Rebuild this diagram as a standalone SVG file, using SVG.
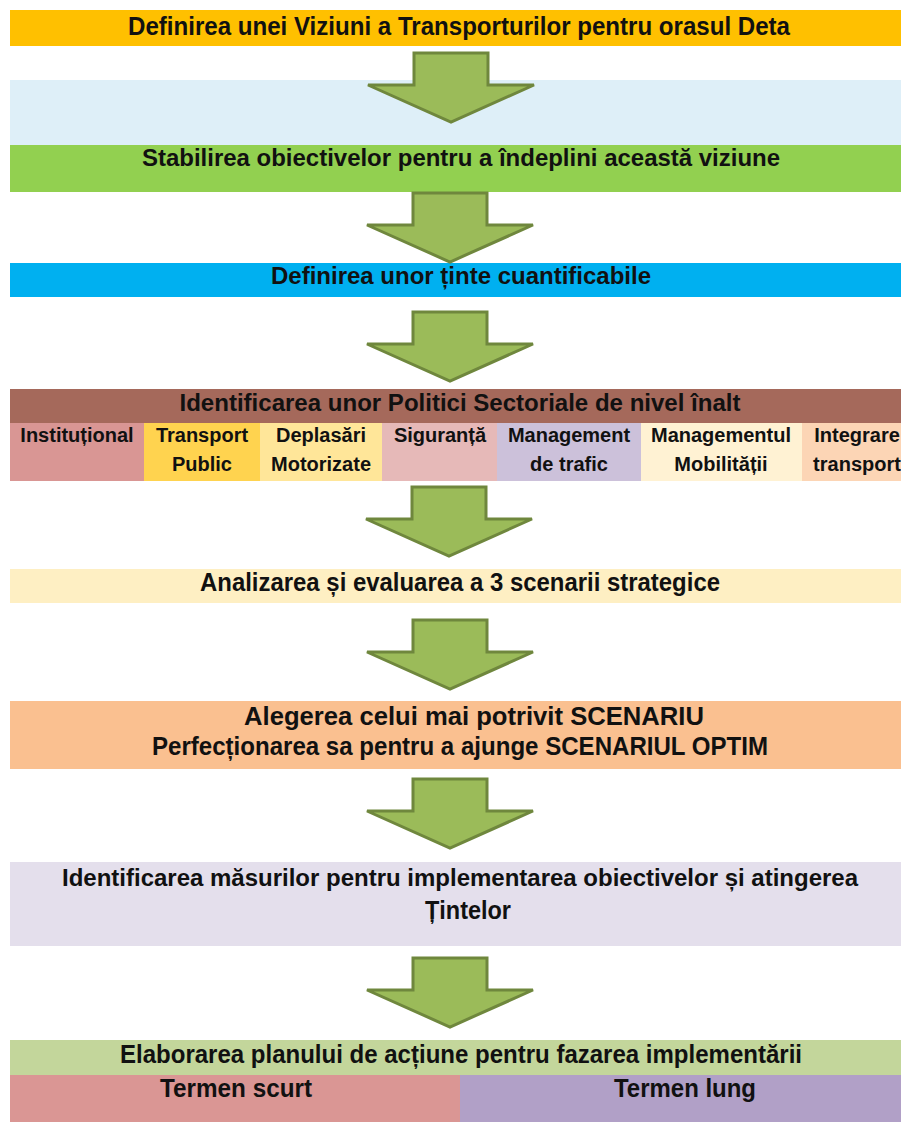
<svg xmlns="http://www.w3.org/2000/svg" width="901" height="1122" viewBox="0 0 901 1122">
  <defs>
    <style>
      text { font-family: "Liberation Sans", Arial, sans-serif; font-weight: bold; fill: #111; text-anchor: middle; }
      .main { font-size: 24px; }
      .narrow { font-size: 26px; }
      .cell { font-size: 20px; }
      .arrow { fill: #9BBB59; stroke: #6F873D; stroke-width: 3; stroke-linejoin: miter; }
    </style>
    <!-- block arrow pointing down, origin at top centre of the shaft -->
    <path id="downArrow" d="M -37 0 H 37 V 32 H 83 L 0 69 L -83 32 H -37 Z"/>
  </defs>

  <rect width="901" height="1122" fill="#FFFFFF"/>

  <!-- Step 1: vision -->
  <g id="vision">
    <rect x="10" y="10" width="891" height="36" fill="#FFC000"/>
    <text class="narrow" x="459" y="35" textLength="662" lengthAdjust="spacingAndGlyphs">Definirea unei Viziuni a Transporturilor pentru orasul Deta</text>
  </g>

  <g id="vision-band">
    <rect x="10" y="80" width="891" height="65" fill="#DEEFF8"/>
  </g>

  <!-- Step 2: objectives -->
  <g id="objectives">
    <rect x="10" y="145" width="891" height="47" fill="#92D050"/>
    <text class="main" x="461" y="166" textLength="638" lengthAdjust="spacingAndGlyphs">Stabilirea obiectivelor pentru a îndeplini această viziune</text>
  </g>

  <!-- Step 3: targets -->
  <g id="targets">
    <rect x="10" y="263" width="891" height="34" fill="#00B0F0"/>
    <text class="main" x="461" y="284">Definirea unor ținte cuantificabile</text>
  </g>

  <!-- Step 4: sector policies -->
  <g id="policies">
    <rect x="10" y="389" width="891" height="34" fill="#A5695B"/>
    <text class="main" x="460" y="411" textLength="561" lengthAdjust="spacingAndGlyphs">Identificarea unor Politici Sectoriale de nivel înalt</text>
  </g>
  <g id="policy-institutional">
    <rect x="10" y="423" width="134" height="58" fill="#D99694"/>
    <text class="cell" x="77" y="442">Instituțional</text>
  </g>
  <g id="policy-public-transport">
    <rect x="144" y="423" width="116" height="58" fill="#FFD34F"/>
    <text class="cell" x="202" y="442">Transport</text>
    <text class="cell" x="202" y="471">Public</text>
  </g>
  <g id="policy-motorised">
    <rect x="260" y="423" width="122" height="58" fill="#FFE699"/>
    <text class="cell" x="321" y="442">Deplasări</text>
    <text class="cell" x="321" y="471">Motorizate</text>
  </g>
  <g id="policy-safety">
    <rect x="382" y="423" width="115" height="58" fill="#E6B9B8"/>
    <text class="cell" x="440" y="442">Siguranță</text>
  </g>
  <g id="policy-traffic">
    <rect x="497" y="423" width="144" height="58" fill="#CCC1DA"/>
    <text class="cell" x="569" y="442">Management</text>
    <text class="cell" x="569" y="471">de trafic</text>
  </g>
  <g id="policy-mobility">
    <rect x="641" y="423" width="161" height="58" fill="#FFF2D3"/>
    <text class="cell" x="721" y="442">Managementul</text>
    <text class="cell" x="721" y="471">Mobilității</text>
  </g>
  <g id="policy-integration">
    <rect x="802" y="423" width="99" height="58" fill="#FCD5B5"/>
    <text class="cell" x="857" y="442">Integrare</text>
    <text class="cell" x="857" y="471">transport</text>
  </g>

  <!-- Step 5: scenarios -->
  <g id="scenarios">
    <rect x="10" y="569" width="891" height="34" fill="#FEEFC3"/>
    <text class="narrow" x="460" y="591" textLength="520" lengthAdjust="spacingAndGlyphs">Analizarea și evaluarea a 3 scenarii strategice</text>
  </g>

  <!-- Step 6: optimal scenario -->
  <g id="optimal-scenario">
    <rect x="10" y="701" width="891" height="68" fill="#FAC090"/>
    <text class="narrow" x="474" y="725" textLength="460" lengthAdjust="spacingAndGlyphs">Alegerea celui mai potrivit SCENARIU</text>
    <text class="narrow" x="460" y="755" textLength="616" lengthAdjust="spacingAndGlyphs">Perfecționarea sa pentru a ajunge SCENARIUL OPTIM</text>
  </g>

  <!-- Step 7: measures -->
  <g id="measures">
    <rect x="10" y="862" width="891" height="84" fill="#E4DFEC"/>
    <text class="main" x="460" y="886" textLength="796" lengthAdjust="spacingAndGlyphs">Identificarea măsurilor pentru implementarea obiectivelor și atingerea</text>
    <text class="narrow" x="468" y="919" textLength="86" lengthAdjust="spacingAndGlyphs">Țintelor</text>
  </g>

  <!-- Step 8: action plan -->
  <g id="action-plan">
    <rect x="10" y="1040" width="891" height="35" fill="#C3D69B"/>
    <text class="narrow" x="461" y="1063" textLength="682" lengthAdjust="spacingAndGlyphs">Elaborarea planului de acțiune pentru fazarea implementării</text>
  </g>
  <g id="short-term">
    <rect x="10" y="1075" width="450" height="47" fill="#DA9694"/>
    <text class="narrow" x="236" y="1097" textLength="152" lengthAdjust="spacingAndGlyphs">Termen scurt</text>
  </g>
  <g id="long-term">
    <rect x="460" y="1075" width="441" height="47" fill="#B1A0C7"/>
    <text class="narrow" x="685" y="1097" textLength="142" lengthAdjust="spacingAndGlyphs">Termen lung</text>
  </g>

  <!-- Connectors between steps -->
  <g id="connectors">
    <use href="#downArrow" class="arrow" x="451" y="53"/>
    <use href="#downArrow" class="arrow" x="450" y="193"/>
    <use href="#downArrow" class="arrow" x="450" y="312"/>
    <use href="#downArrow" class="arrow" x="449" y="487"/>
    <use href="#downArrow" class="arrow" x="450" y="620"/>
    <use href="#downArrow" class="arrow" x="450" y="779"/>
    <use href="#downArrow" class="arrow" x="450" y="958"/>
  </g>
</svg>
